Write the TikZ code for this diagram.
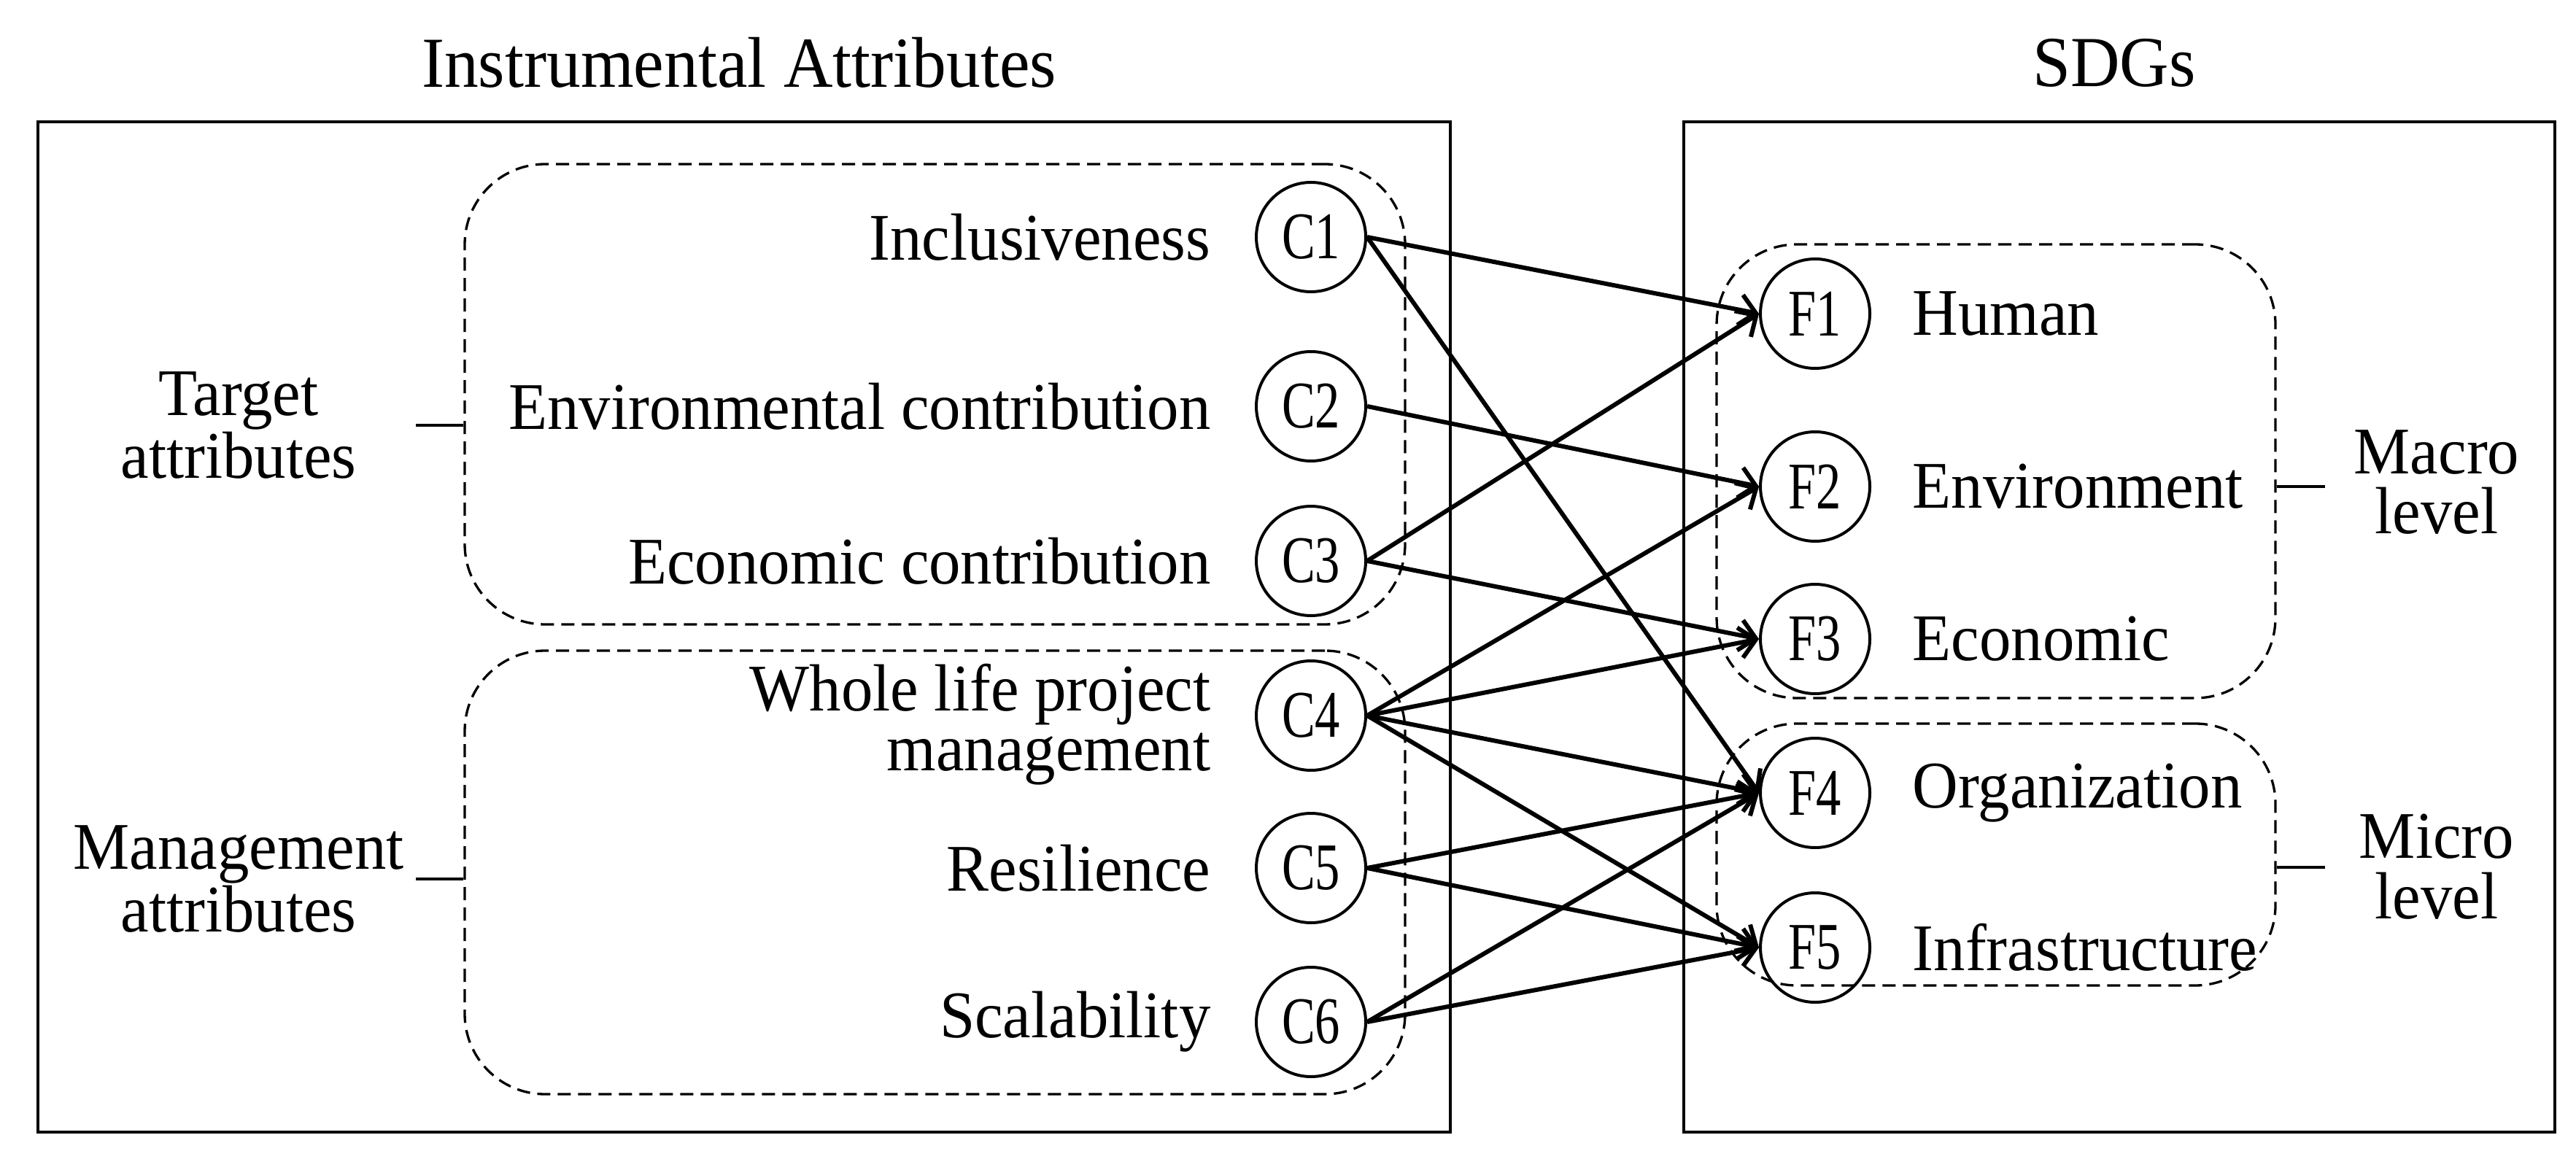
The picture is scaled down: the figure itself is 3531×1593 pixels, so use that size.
\documentclass[tikz,border=0pt]{standalone}
\usepackage{fontspec}
\setmainfont{Liberation Serif}[FakeStretch=0.95]
\newfontfamily\circlefont{Liberation Serif}[FakeStretch=0.75]
\usetikzlibrary{arrows.meta,positioning}

\begin{document}
\begin{tikzpicture}
        [x=0.1mm, y=-0.1mm,
         font=\fontsize{26}{23.5}\selectfont,
         c_node/.style={circle,draw=black,line width=0.4mm,minimum size=15mm,inner sep=0pt,font=\circlefont\fontsize{26}{23}\selectfont},
         c_label/.style={inner sep=0pt,align=right},
         f_label/.style={inner sep=0pt,align=left},
         frame_box/.style={draw=black,line width=0.43mm,minimum height=138.5mm,inner sep=0pt},
         group_box/.style={draw=black,dash pattern=on 1.8mm off 1mm,line width=0.33mm,rounded corners=11mm,inner sep=0pt},
         title_style/.style={font=\fontsize{28}{26}\selectfont},
         tick_style/.style={draw=black,line width=0.33mm},
         edge_style/.style={draw=black,line width=0.6mm,-{Straight Barb[length=2.2mm,width=4.2mm]}}]
            \useasboundingbox (0, 0) rectangle (3531, 1593);
            \node[frame_box,minimum width=193.6mm] (left_frame) at (1020, 859.5) {};
            \node[frame_box,minimum width=119.4mm] (right_frame) at (2905, 859.5) {};
            \node[title_style] (left_title) at (1013, 86) {Instrumental Attributes};
            \node[title_style] (right_title) at (2898, 86) {SDGs};
            \node[group_box,minimum width=128.9mm,minimum height=63.1mm] (target_box) at (1281.5, 540.5) {};
            \node[group_box,minimum width=128.9mm,minimum height=60.8mm] (manage_box) at (1281.5, 1196) {};
            \node[group_box,minimum width=76.6mm,minimum height=62.2mm] (macro_box) at (2736, 646) {};
            \node[group_box,minimum width=76.6mm,minimum height=35.9mm] (micro_box) at (2736, 1171.5) {};
            \node[c_node] (c1) at (1797, 325)  {C1};
            \node[c_node] (c2) at (1797, 557)  {C2};
            \node[c_node] (c3) at (1797, 769)  {C3};
            \node[c_node] (c4) at (1797, 981)  {C4};
            \node[c_node] (c5) at (1797, 1190) {C5};
            \node[c_node] (c6) at (1797, 1401) {C6};
            \node[c_node] (f1) at (2488, 430)  {F1};
            \node[c_node] (f2) at (2488, 667)  {F2};
            \node[c_node] (f3) at (2488, 876)  {F3};
            \node[c_node] (f4) at (2488, 1087) {F4};
            \node[c_node] (f5) at (2488, 1299) {F5};
            \node[c_label,left=6mm of c1] (c1_label) {Inclusiveness};
            \node[c_label,left=6mm of c2] (c2_label) {Environmental contribution};
            \node[c_label,left=6mm of c3] (c3_label) {Economic contribution};
            \node[c_label,left=6mm of c4,yshift=-1.2mm] (c4_label) {Whole life project\\management};
            \node[c_label,left=6mm of c5] (c5_label) {Resilience};
            \node[c_label,left=6mm of c6] (c6_label) {Scalability};
            \node[f_label,right=5.6mm of f1] (f1_label) {Human};
            \node[f_label,right=5.6mm of f2] (f2_label) {Environment};
            \node[f_label,right=5.6mm of f3] (f3_label) {Economic};
            \node[f_label,right=5.6mm of f4] (f4_label) {Organization};
            \node[f_label,right=5.6mm of f5] (f5_label) {Infrastructure};
            \node[align=center] (target_label) at (327, 583) {Target\\attributes};
            \node[align=center] (manage_label) at (327, 1205) {Management\\attributes};
            \node[align=center] (macro_label) at (3340, 661) {Macro\\level};
            \node[align=center] (micro_label) at (3340, 1188) {Micro\\level};
            \coordinate (target_tick) at (570, 583);
            \coordinate (manage_tick) at (570, 1205);
            \coordinate (macro_tick) at (3187, 667);
            \coordinate (micro_tick) at (3187, 1189);
            \draw[tick_style] (target_tick) -- (target_tick -| target_box.west);
            \draw[tick_style] (manage_tick) -- (manage_tick -| manage_box.west);
            \draw[tick_style] (macro_tick -| macro_box.east) -- (macro_tick);
            \draw[tick_style] (micro_tick -| micro_box.east) -- (micro_tick);
            \draw[edge_style]  (c1.east) -- (f1.west);
            \draw[edge_style]  (c1.east) -- (f4.west);
            \draw[edge_style]  (c2.east) -- (f2.west);
            \draw[edge_style]  (c3.east) -- (f1.west);
            \draw[edge_style]  (c3.east) -- (f3.west);
            \draw[edge_style]  (c4.east) -- (f2.west);
            \draw[edge_style]  (c4.east) -- (f3.west);
            \draw[edge_style]  (c4.east) -- (f4.west);
            \draw[edge_style]  (c4.east) -- (f5.west);
            \draw[edge_style]  (c5.east) -- (f4.west);
            \draw[edge_style]  (c5.east) -- (f5.west);
            \draw[edge_style]  (c6.east) -- (f4.west);
            \draw[edge_style]  (c6.east) -- (f5.west);
        \end{tikzpicture}
\end{document}
